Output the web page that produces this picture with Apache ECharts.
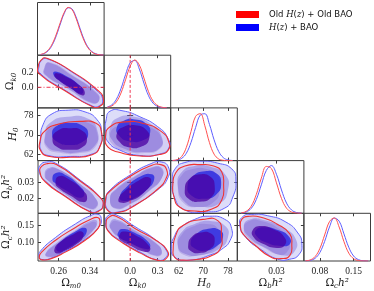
<!DOCTYPE html>
<html><head><meta charset="utf-8">
<script src="https://cdn.jsdelivr.net/npm/echarts@6/dist/echarts.min.js"></script>
<style>html,body{margin:0;padding:0;background:#fff}#c{width:374px;height:291px}</style>
</head><body><div id="c"></div>
<script>
// ---------- axes ----------
const axisTitles = ['{g|Ω}{s|m0}', '{g|Ω}{s|k0}', '{i|H}{s|0}', '{g|Ω}{s|b}{i|h²}', '{g|Ω}{s|c}{i|h²}'];
const axisMin = [0.207, -0.284, 59.4, 0.0106, 0.047];
const axisMax = [0.3765, 0.442, 81.05, 0.0436, 0.185];
const xTickVals = [[0.26, 0.34], [0.0, 0.3], [62, 70, 78], [0.03], [0.08, 0.15]];
const yTickVals = [[], [0.0, 0.2], [62, 70, 78], [0.02, 0.03], [0.10, 0.15]];
const tickDecimals = [2, 1, 0, 2, 2];
const omegaKReference = 0;
const legendNames = ['Old H(z) + Old BAO', 'H(z) + BAO'];

// ---------- 1D marginals (normalised density) ----------
const omX = [0.215,0.225,0.235,0.245,0.255,0.265,0.275,0.285,0.295,0.305,0.315,0.325,0.335,0.345,0.355,0.365,0.375];
const omRed = [0.016,0.046,0.115,0.244,0.441,0.679,0.891,0.997,0.950,0.772,0.534,0.315,0.158,0.068,0.025,0.008,0.002];
const omBlue = [0.012,0.038,0.100,0.220,0.410,0.650,0.870,0.990,0.965,0.800,0.565,0.340,0.175,0.078,0.030,0.010,0.003];
const okX = [-0.25,-0.2,-0.15,-0.1,-0.05,0,0.05,0.1,0.15,0.2,0.25,0.3,0.35,0.4];
const okRed = [0.010,0.041,0.127,0.310,0.588,0.869,1.0,0.895,0.625,0.339,0.143,0.047,0.012,0.002];
const okBlue = [0.017,0.063,0.181,0.402,0.695,0.941,0.989,0.810,0.516,0.256,0.099,0.030,0.007,0.001];
const h0X = [60,61.5,63,64.5,66,67.5,69,70.5,72,73.5,75,76.5,78,79.5];
const h0Red = [0.003,0.020,0.089,0.278,0.607,0.923,0.980,0.726,0.375,0.135,0.034,0.006,0.001,0];
const h0Blue = [0.002,0.011,0.048,0.155,0.380,0.691,0.950,0.978,0.755,0.435,0.191,0.062,0.015,0.003];
const obX = [0.0125,0.015,0.0175,0.02,0.0225,0.025,0.0275,0.03,0.0325,0.035,0.0375,0.04,0.0425];
const obRed = [0.008,0.041,0.149,0.391,0.732,0.978,0.934,0.636,0.310,0.106,0.026,0.005,0.001];
const obBlue = [0.005,0.027,0.103,0.287,0.594,0.896,0.996,0.815,0.487,0.213,0.069,0.016,0.003];
const ocX = [0.05,0.06,0.07,0.08,0.09,0.10,0.11,0.12,0.13,0.14,0.15,0.16,0.17,0.18];
const ocRed = [0.004,0.024,0.099,0.287,0.600,0.908,0.992,0.783,0.446,0.181,0.053,0.011,0.002,0];
const ocBlue = [0.002,0.014,0.060,0.194,0.452,0.783,0.990,0.919,0.625,0.315,0.115,0.031,0.006,0.001];

// ---------- 2D contours (vertices in data units, key = "row,col") ----------
const blueOuter = {
 '1,0': [[0.211,0.291],[0.217,0.367],[0.231,0.394],[0.295,0.209],[0.359,-0.051],[0.373,-0.175],[0.364,-0.257],[0.346,-0.257],[0.280,-0.051],[0.213,0.195]],
 '2,0': [[0.215,67.9],[0.221,74.1],[0.244,78.6],[0.285,80.1],[0.328,79.4],[0.359,76.1],[0.370,71.2],[0.366,65.4],[0.346,62.1],[0.290,61.1],[0.234,61.5],[0.216,63.7]],
 '2,1': [[-0.262,76.1],[-0.219,79.7],[-0.089,79.9],[0.106,77.4],[0.301,73.3],[0.410,68.7],[0.421,64.6],[0.323,62.1],[0.106,61.5],[-0.111,63.7],[-0.241,67.1],[-0.268,71.2]],
 '3,0': [[0.210,0.0364],[0.213,0.0408],[0.229,0.0427],[0.252,0.0420],[0.315,0.0314],[0.366,0.0208],[0.374,0.0158],[0.361,0.0121],[0.341,0.0117],[0.277,0.0214],[0.226,0.0308]],
 '3,1': [[-0.262,0.0202],[-0.219,0.0252],[-0.002,0.0345],[0.215,0.0414],[0.345,0.0427],[0.421,0.0389],[0.410,0.0327],[0.323,0.0264],[0.052,0.0158],[-0.132,0.0114],[-0.241,0.0127]],
 '3,2': [[59.9,0.0314],[61.0,0.0389],[64.0,0.0424],[68.9,0.0433],[74.7,0.0420],[79.3,0.0383],[80.6,0.0314],[79.6,0.0208],[77.0,0.0139],[70.5,0.0114],[64.0,0.0127],[60.7,0.0202]],
 '4,0': [[0.210,0.0596],[0.213,0.0753],[0.252,0.1150],[0.303,0.1543],[0.341,0.1779],[0.361,0.1819],[0.369,0.1701],[0.364,0.1465],[0.328,0.1098],[0.277,0.0753],[0.239,0.0544],[0.216,0.0517]],
 '4,1': [[-0.268,0.1622],[-0.241,0.1779],[-0.165,0.1819],[0.052,0.1465],[0.269,0.1098],[0.399,0.0757],[0.388,0.0573],[0.301,0.0495],[0.106,0.0731],[-0.111,0.1072],[-0.241,0.1360]],
 '4,2': [[59.6,0.0888],[60.7,0.1203],[62.3,0.1412],[67.2,0.1674],[72.1,0.1766],[77.0,0.1674],[79.2,0.1412],[78.7,0.1064],[76.0,0.0810],[73.1,0.0671],[65.6,0.0495],[60.7,0.0582]],
 '4,3': [[0.0118,0.1517],[0.0133,0.1753],[0.0178,0.1819],[0.0257,0.1779],[0.0347,0.1596],[0.0406,0.1281],[0.0426,0.0967],[0.0411,0.0653],[0.0366,0.0522],[0.0307,0.0522],[0.0228,0.0784],[0.0148,0.1150]]
};
const redOuter = {
 '1,0': [[0.209,0.291],[0.216,0.374],[0.231,0.401],[0.295,0.216],[0.361,-0.044],[0.375,-0.175],[0.365,-0.264],[0.346,-0.264],[0.280,-0.058],[0.211,0.188]],
 '2,0': [[0.213,67.1],[0.226,71.6],[0.264,74.5],[0.315,75.5],[0.356,74.7],[0.370,70.8],[0.366,65.2],[0.346,61.8],[0.290,60.8],[0.234,61.2],[0.215,63.5]],
 '2,1': [[-0.268,69.5],[-0.219,73.3],[-0.056,75.3],[0.160,74.5],[0.345,71.2],[0.421,67.1],[0.415,63.7],[0.323,61.9],[0.106,61.3],[-0.111,62.7],[-0.241,64.9]],
 '3,0': [[0.212,0.0364],[0.217,0.0402],[0.231,0.0417],[0.254,0.0411],[0.315,0.0308],[0.366,0.0205],[0.374,0.0155],[0.361,0.0117],[0.341,0.0114],[0.277,0.0211],[0.226,0.0302]],
 '3,1': [[-0.268,0.0195],[-0.219,0.0245],[-0.002,0.0336],[0.215,0.0402],[0.334,0.0411],[0.399,0.0377],[0.388,0.0320],[0.301,0.0258],[0.052,0.0155],[-0.132,0.0111],[-0.246,0.0124]],
 '3,2': [[60.1,0.0283],[61.0,0.0358],[64.0,0.0402],[68.9,0.0411],[73.4,0.0402],[76.0,0.0364],[76.6,0.0283],[76.0,0.0189],[72.8,0.0133],[67.2,0.0120],[62.3,0.0145],[60.4,0.0214]],
 '4,0': [[0.210,0.0570],[0.215,0.0712],[0.252,0.1072],[0.303,0.1439],[0.341,0.1674],[0.360,0.1727],[0.366,0.1622],[0.361,0.1412],[0.328,0.1072],[0.277,0.0727],[0.239,0.0531],[0.216,0.0505]],
 '4,1': [[-0.262,0.1570],[-0.230,0.1740],[-0.154,0.1766],[0.052,0.1412],[0.280,0.1072],[0.410,0.0744],[0.399,0.0560],[0.312,0.0482],[0.106,0.0705],[-0.111,0.1046],[-0.235,0.1321]],
 '4,2': [[60.2,0.0802],[61.0,0.1203],[63.4,0.1499],[69.9,0.1674],[74.8,0.1630],[75.9,0.1237],[75.4,0.0802],[72.1,0.0600],[69.9,0.0540],[63.4,0.0495],[60.7,0.0573]],
 '4,3': [[0.0122,0.1439],[0.0128,0.1674],[0.0168,0.1766],[0.0228,0.1727],[0.0302,0.1543],[0.0366,0.1255],[0.0376,0.0941],[0.0366,0.0626],[0.0322,0.0540],[0.0267,0.0600],[0.0193,0.0933],[0.0138,0.1229]]
};
const blueMid = {
 '1,0': [[0.224,0.264],[0.236,0.339],[0.295,0.161],[0.354,-0.065],[0.364,-0.175],[0.346,-0.222],[0.285,-0.024],[0.226,0.168]],
 '2,0': [[0.226,69.9],[0.239,74.9],[0.285,77.4],[0.336,76.6],[0.359,72.0],[0.354,65.8],[0.315,62.9],[0.259,63.3],[0.231,65.4]],
 '2,1': [[-0.219,72.8],[-0.132,77.0],[0.052,77.4],[0.236,74.1],[0.345,69.1],[0.323,64.6],[0.160,62.9],[-0.056,64.2],[-0.197,67.9]],
 '3,0': [[0.224,0.0345],[0.234,0.0389],[0.259,0.0383],[0.315,0.0289],[0.356,0.0195],[0.356,0.0145],[0.336,0.0139],[0.277,0.0227],[0.234,0.0308]],
 '3,1': [[-0.219,0.0202],[-0.154,0.0258],[0.052,0.0339],[0.236,0.0395],[0.345,0.0389],[0.345,0.0327],[0.215,0.0252],[-0.002,0.0164],[-0.165,0.0139]],
 '3,2': [[61.7,0.0283],[63.0,0.0364],[67.2,0.0402],[72.8,0.0395],[77.3,0.0345],[78.0,0.0252],[75.4,0.0170],[68.9,0.0145],[64.0,0.0177]],
 '4,0': [[0.226,0.0679],[0.252,0.0967],[0.303,0.1360],[0.346,0.1648],[0.359,0.1596],[0.346,0.1334],[0.303,0.0941],[0.259,0.0653],[0.234,0.0596]],
 '4,1': [[-0.219,0.1570],[-0.154,0.1674],[0.052,0.1360],[0.269,0.1020],[0.345,0.0731],[0.280,0.0626],[0.085,0.0888],[-0.111,0.1150],[-0.208,0.1386]],
 '4,2': [[61.7,0.0941],[63.0,0.1308],[67.2,0.1543],[72.8,0.1622],[77.3,0.1465],[78.0,0.1150],[75.4,0.0836],[69.8,0.0653],[64.0,0.0679]],
 '4,3': [[0.0138,0.1465],[0.0168,0.1674],[0.0242,0.1648],[0.0342,0.1412],[0.0396,0.1098],[0.0391,0.0757],[0.0342,0.0626],[0.0242,0.0862],[0.0168,0.1150]]
};
const redMid = {
 '1,0': [[0.226,0.270],[0.238,0.345],[0.297,0.167],[0.356,-0.059],[0.365,-0.169],[0.348,-0.216],[0.287,-0.018],[0.228,0.174]],
 '2,0': [[0.226,68.7],[0.244,73.3],[0.290,75.3],[0.341,74.5],[0.359,70.4],[0.354,65.0],[0.315,62.5],[0.259,62.7],[0.231,64.6]],
 '2,1': [[-0.219,70.4],[-0.132,73.7],[0.052,74.9],[0.236,72.8],[0.345,68.3],[0.323,64.2],[0.160,62.5],[-0.056,63.3],[-0.197,66.2]],
 '3,0': [[0.226,0.0340],[0.236,0.0383],[0.261,0.0378],[0.317,0.0284],[0.357,0.0190],[0.357,0.0141],[0.337,0.0135],[0.278,0.0222],[0.236,0.0303]],
 '3,1': [[-0.219,0.0197],[-0.154,0.0253],[0.052,0.0333],[0.236,0.0389],[0.340,0.0384],[0.340,0.0322],[0.215,0.0247],[-0.002,0.0160],[-0.165,0.0135]],
 '3,2': [[61.7,0.0264],[63.0,0.0345],[66.6,0.0383],[71.1,0.0383],[74.7,0.0339],[75.4,0.0252],[73.4,0.0177],[68.2,0.0145],[63.6,0.0170]],
 '4,0': [[0.226,0.0660],[0.252,0.0940],[0.303,0.1320],[0.344,0.1590],[0.357,0.1545],[0.344,0.1290],[0.303,0.0910],[0.259,0.0630],[0.234,0.0575]],
 '4,1': [[-0.215,0.1530],[-0.150,0.1630],[0.055,0.1320],[0.272,0.0990],[0.348,0.0710],[0.283,0.0605],[0.088,0.0860],[-0.108,0.1115],[-0.205,0.1350]],
 '4,2': [[61.7,0.0888],[63.0,0.1229],[66.6,0.1465],[71.1,0.1543],[74.7,0.1412],[75.4,0.1072],[73.1,0.0784],[68.2,0.0626],[63.6,0.0653]],
 '4,3': [[0.0138,0.1386],[0.0163,0.1622],[0.0228,0.1622],[0.0317,0.1386],[0.0361,0.1072],[0.0356,0.0757],[0.0312,0.0653],[0.0228,0.0888],[0.0163,0.1124]]
};
const blueInner = {
 '1,0': [[0.247,0.182],[0.252,0.216],[0.280,0.154],[0.310,0.045],[0.323,-0.038],[0.318,-0.092],[0.290,-0.003],[0.259,0.106]],
 '2,0': [[0.244,70.4],[0.259,73.9],[0.290,74.85],[0.320,73.9],[0.336,70.4],[0.320,66.9],[0.290,65.85],[0.259,66.9]],
 '2,1': [[-0.146,72.95],[-0.070,75.8],[0.055,76.3],[0.179,74.45],[0.217,70.65],[0.142,67.8],[-0.008,67.3],[-0.120,69.6]],
 '3,0': [[0.244,0.0319],[0.253,0.0358],[0.276,0.0348],[0.314,0.0277],[0.326,0.0226],[0.314,0.0204],[0.285,0.0240],[0.253,0.0291]],
 '3,1': [[-0.113,0.0213],[-0.039,0.0271],[0.111,0.0336],[0.236,0.0350],[0.260,0.0313],[0.186,0.0257],[0.036,0.0199],[-0.088,0.0185]],
 '3,2': [[64.9,0.0283],[66.7,0.0340],[70.5,0.0369],[74.3,0.0355],[75.8,0.0296],[74.3,0.0225],[70.5,0.0197],[66.0,0.0219]],
 '4,0': [[0.254,0.0858],[0.269,0.1070],[0.301,0.1312],[0.327,0.1430],[0.331,0.1280],[0.313,0.1070],[0.281,0.0828],[0.260,0.0740]],
 '4,1': [[-0.134,0.1277],[-0.083,0.1398],[0.054,0.1277],[0.191,0.1038],[0.216,0.0856],[0.154,0.0825],[-0.008,0.1007],[-0.121,0.1157]],
 '4,2': [[65.9,0.1010],[67.8,0.1250],[71.6,0.1400],[75.2,0.1371],[76.4,0.1159],[74.2,0.0889],[70.4,0.0768],[67.1,0.0836]],
 '4,3': [[0.0197,0.1358],[0.0242,0.1448],[0.0311,0.1358],[0.0362,0.1177],[0.0367,0.0965],[0.0322,0.0906],[0.0253,0.0997],[0.0203,0.1177]]
};
const redInner = {
 '1,0': [[0.250,0.161],[0.256,0.195],[0.284,0.134],[0.314,0.024],[0.327,-0.058],[0.322,-0.113],[0.294,-0.024],[0.263,0.086]],
 '2,0': [[0.245,68.3],[0.259,71.8],[0.290,72.7],[0.320,71.8],[0.333,68.3],[0.320,64.8],[0.290,63.9],[0.259,64.8]],
 '2,1': [[-0.145,70.55],[-0.069,73.3],[0.055,73.9],[0.179,71.9],[0.205,68.1],[0.130,65.3],[-0.007,64.8],[-0.119,67.2]],
 '3,0': [[0.252,0.0294],[0.260,0.0338],[0.284,0.0323],[0.322,0.0251],[0.333,0.0201],[0.322,0.0176],[0.292,0.0215],[0.260,0.0265]],
 '3,1': [[-0.123,0.0202],[-0.048,0.0252],[0.090,0.0310],[0.202,0.0331],[0.227,0.0295],[0.152,0.0237],[0.015,0.0187],[-0.110,0.0173]],
 '3,2': [[64.0,0.0257],[65.5,0.0321],[68.9,0.0350],[72.2,0.0336],[73.7,0.0278],[72.6,0.0206],[68.9,0.0178],[65.1,0.0199]],
 '4,0': [[0.249,0.0811],[0.264,0.1022],[0.296,0.1233],[0.319,0.1324],[0.323,0.1172],[0.306,0.0961],[0.273,0.0751],[0.255,0.0690]],
 '4,1': [[-0.120,0.1199],[-0.070,0.1320],[0.067,0.1199],[0.191,0.0958],[0.216,0.0777],[0.142,0.0747],[-0.008,0.0928],[-0.108,0.1078]],
 '4,2': [[65.1,0.0933],[66.3,0.1172],[69.2,0.1293],[72.5,0.1263],[73.7,0.1051],[72.2,0.0817],[68.8,0.0700],[65.9,0.0759]],
 '4,3': [[0.0182,0.1360],[0.0223,0.1481],[0.0285,0.1390],[0.0337,0.1180],[0.0343,0.0938],[0.0302,0.0847],[0.0233,0.0968],[0.0188,0.1149]]
};

const marginals = [
  {x: omX, red: omRed, blue: omBlue},
  {x: okX, red: okRed, blue: okBlue},
  {x: h0X, red: h0Red, blue: h0Blue},
  {x: obX, red: obRed, blue: obBlue},
  {x: ocX, red: ocRed, blue: ocBlue}
];

// ---------- build ----------
const chart = echarts.init(document.getElementById('c'), null, {renderer: 'canvas', width: 374, height: 291});
const L0 = 37.5, T0 = 2.5, CW = 66.6, RH = 52.7;
const frame = '#3c3c3c', txt = '#1a1a1a';
const yNameGap = [0, 19, 14, 20, 21];
const tickFont = {fontFamily: 'Liberation Serif', fontSize: 9.5, color: txt};
const rich = {
  g: {fontFamily: 'DejaVu Serif', fontSize: 10.5, color: txt, lineHeight: 14},
  i: {fontFamily: 'DejaVu Serif', fontSize: 10.5, fontStyle: 'italic', color: txt, lineHeight: 14},
  s: {fontFamily: 'DejaVu Serif', fontSize: 7, fontStyle: 'italic', color: txt, verticalAlign: 'bottom', lineHeight: 14}
};
const fills = {
  blueOuter: 'rgba(120,120,230,0.25)', redOuter: 'rgba(150,110,210,0.12)',
  blueMid: 'rgba(100,80,210,0.36)', redMid: 'rgba(110,80,200,0.25)',
  blueInner: 'rgba(40,40,225,0.80)', redInner: 'rgba(75,0,160,0.75)'
};
const SMOOTH = 0.55;
const grids = [], xAxis = [], yAxis = [], series = [];
const tick = (vals) => ({show: true, inside: true, length: 3, lineStyle: {color: frame, width: 1}, customValues: vals});

function poly(ix, iy, pts, style) {
  series.push({
    type: 'custom', xAxisIndex: ix, yAxisIndex: iy, coordinateSystem: 'cartesian2d', clip: true, silent: true,
    data: [pts[0]],
    renderItem: (params, api) => ({type: 'polygon', shape: {points: pts.map(p => api.coord(p)), smooth: SMOOTH}, style: style})
  });
}

for (let r = 0; r < 5; r++) {
  for (let c = 0; c <= r; c++) {
    const gi = grids.length;
    const diag = r === c;
    grids.push({left: L0 + c * CW, top: T0 + r * RH, width: CW, height: RH, show: true,
      borderColor: frame, borderWidth: 1, backgroundColor: 'transparent'});
    const ix = xAxis.length;
    xAxis.push({gridIndex: gi, type: 'value', position: 'bottom', min: axisMin[c], max: axisMax[c],
      axisLine: {show: false}, splitLine: {show: false}, axisTick: tick(xTickVals[c]),
      axisLabel: Object.assign({show: r === 4, customValues: xTickVals[c], margin: 5,
        formatter: v => Number(v).toFixed(tickDecimals[c])}, tickFont),
      name: r === 4 ? axisTitles[c] : '', nameLocation: 'middle', nameGap: 15, nameTextStyle: {rich: rich}});
    xAxis.push({gridIndex: gi, type: 'value', position: 'top', min: axisMin[c], max: axisMax[c],
      axisLine: {show: false}, splitLine: {show: false}, axisTick: tick(xTickVals[c]), axisLabel: {show: false}});
    const iy = yAxis.length;
    if (diag) {
      yAxis.push({gridIndex: gi, type: 'value', min: 0, max: 1.1, show: false});
    } else {
      yAxis.push({gridIndex: gi, type: 'value', position: 'left', min: axisMin[r], max: axisMax[r],
        axisLine: {show: false}, splitLine: {show: false}, axisTick: tick(yTickVals[r]),
        axisLabel: Object.assign({show: c === 0, customValues: yTickVals[r], margin: 4,
          formatter: v => Number(v).toFixed(tickDecimals[r])}, tickFont),
        name: c === 0 ? axisTitles[r] : '', nameLocation: 'middle', nameGap: yNameGap[r], nameRotate: 90,
        nameTextStyle: {rich: rich}});
      yAxis.push({gridIndex: gi, type: 'value', position: 'right', min: axisMin[r], max: axisMax[r],
        axisLine: {show: false}, splitLine: {show: false}, axisTick: tick(yTickVals[r]), axisLabel: {show: false}});
    }

    if (diag) {
      const m = marginals[c];
      series.push({type: 'line', name: legendNames[1], xAxisIndex: ix, yAxisIndex: iy, smooth: 0.4, showSymbol: false,
        silent: true, data: m.x.map((x, k) => [x, m.blue[k]]), lineStyle: {color: '#5c5cff', width: 1}, itemStyle: {color: '#0000ff'}});
      series.push({type: 'line', name: legendNames[0], xAxisIndex: ix, yAxisIndex: iy, smooth: 0.4, showSymbol: false,
        silent: true, data: m.x.map((x, k) => [x, m.red[k]]), lineStyle: {color: '#ff5050', width: 1}, itemStyle: {color: '#ff0000'}});
    } else {
      const key = r + ',' + c;
      poly(ix, iy, blueOuter[key], {fill: fills.blueOuter});
      poly(ix, iy, redOuter[key], {fill: fills.redOuter});
      poly(ix, iy, blueMid[key], {fill: fills.blueMid});
      poly(ix, iy, redMid[key], {fill: fills.redMid});
      poly(ix, iy, blueInner[key], {fill: fills.blueInner});
      poly(ix, iy, redInner[key], {fill: fills.redInner});
      poly(ix, iy, blueOuter[key], {fill: 'none', stroke: '#6464ff', lineWidth: 1});
      poly(ix, iy, redOuter[key], {fill: 'none', stroke: '#f03434', lineWidth: 1.1});
    }
    // Omega_k0 = 0 reference lines
    if (c === 1) {
      const y0 = diag ? 0 : axisMin[r], y1 = diag ? 1.1 : axisMax[r];
      series.push({type: 'line', xAxisIndex: ix, yAxisIndex: iy, silent: true, showSymbol: false,
        data: [[omegaKReference, y0], [omegaKReference, y1]], lineStyle: {color: '#ee3a55', width: 1, type: [3, 2]}});
    }
    if (r === 1 && c === 0) {
      series.push({type: 'line', xAxisIndex: ix, yAxisIndex: iy, silent: true, showSymbol: false,
        data: [[axisMin[0], omegaKReference], [axisMax[0], omegaKReference]], lineStyle: {color: '#ee3a55', width: 1, type: [4, 2, 1, 2]}});
    }
  }
}

chart.setOption({
  animation: false,
  grid: grids, xAxis: xAxis, yAxis: yAxis, series: series,
  legend: {
    data: [{name: legendNames[0], icon: 'rect', itemStyle: {color: '#ff0000'}},
           {name: legendNames[1], icon: 'rect', itemStyle: {color: '#0000ff'}}],
    left: 231, top: 4, orient: 'vertical', itemWidth: 23, itemHeight: 7, itemGap: 2, selectedMode: false,
    formatter: n => n === legendNames[0] ? 'Old {i|H}({i|z}) + Old BAO' : '{i|H}({i|z}) + BAO',
    textStyle: {fontFamily: 'DejaVu Sans', fontSize: 8.5, color: '#111', lineHeight: 11, padding: [0, 0, 0, 5],
      rich: {i: {fontFamily: 'DejaVu Serif', fontStyle: 'italic', fontSize: 8.5, lineHeight: 11}}}
  }
});
</script></body></html>
